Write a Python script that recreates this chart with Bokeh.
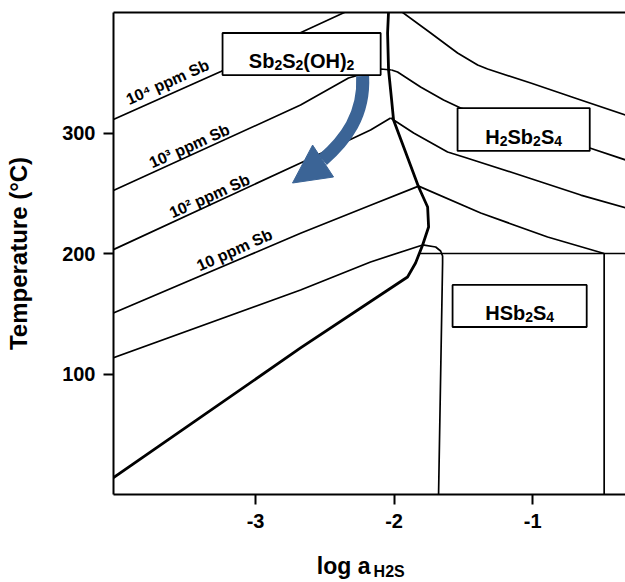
from bokeh.plotting import figure
from bokeh.layouts import column
from bokeh.models import Range1d, FixedTicker, LinearAxis
from bokeh.embed import file_html
from bokeh.resources import INLINE
from bokeh.core.properties import value

FONT = "Liberation Sans"

# ---- axes ----
x_ticks = [-3, -2, -1]
x_tick_labels = {-3: "-3", -2: "-2", -1: "-1"}
y_ticks = [100, 200, 300]

# ---- thick phase boundary (log aH2S, T) ----
boundary_x = [-4.03, -2.675, -1.903, -1.845, -1.794, -1.751, -1.758, -1.823, -1.931, -2.004, -2.018, -2.040, -2.047, -2.040]
boundary_y = [13.7, 121.6, 180.5, 192.1, 207.1, 222.0, 238.6, 255.2, 288.4, 310.8, 327.4, 352.3, 383.0, 401.0]

# ---- solubility contours ----
c4_left_x = [-4.03, -3.25, -2.68, -2.34]
c4_left_y = [311.0, 351.0, 383.0, 401.0]
c4_right_x = [-1.95, -1.736, -1.542, -1.397, -1.325, -1.014, -0.653, -0.30]
c4_right_y = [401.0, 383.0, 366.4, 356.4, 353.1, 341.5, 327.4, 313.8]

c3_left_x = [-4.03, -2.675, -2.329, -2.097, -2.018]
c3_left_y = [252.0, 323.2, 345.6, 353.1, 352.3]
c3_right_x = [-2.018, -1.975, -1.809, -1.643, -1.520, -0.588, -0.30]
c3_right_y = [352.3, 350.6, 338.2, 327.4, 320.7, 287.6, 276.5]

c2_left_x = [-4.03, -2.675, -2.170, -2.025]
c2_left_y = [203.0, 275.1, 302.5, 312.4]
c2_right_x = [-2.025, -1.859, -1.614, -1.498, -1.137, -0.653, -0.30]
c2_right_y = [312.4, 300.0, 284.2, 280.1, 266.8, 248.5, 237.0]

c1_left_x = [-4.03, -2.675, -2.170, -1.823]
c1_left_y = [150.4, 216.8, 240.0, 255.9]
c1_right_x = [-1.823, -1.375, -0.892, -0.484]
c1_right_y = [255.9, 233.6, 213.7, 200.0]

c0_x = [-4.03, -2.675, -2.170, -1.794, -1.700, -1.664, -1.650, -1.650, -1.679]
c0_y = [113.3, 169.7, 193.0, 207.1, 205.4, 202.1, 197.9, 192.1, 0.0]

h_x = [-1.82, -0.30]
h_y = [200.0, 200.0]
v_x = [-0.484, -0.484]
v_y = [200.0, 0.0]

# ---- contour labels ----
clab_text = ["10\u2074 ppm Sb", "10\u00b3 ppm Sb", "10\u00b2 ppm Sb", "10 ppm Sb"]
clab_x = [-3.635, -3.477, -3.332, -3.152]
clab_y = [342.3, 289.2, 247.7, 202.9]

# ---- field boxes ----
box_left = [-3.238, -1.542, -1.578]
box_right = [-2.097, -0.588, -0.610]
box_top = [383.0, 320.7, 173.9]
box_bottom = [348.1, 285.1, 139.0]
# formula pieces: (text, is_subscript)
box_formulas = [
    [("Sb", 0), ("2", 1), ("S", 0), ("2", 1), ("(OH)", 0), ("2", 1)],
    [("H", 0), ("2", 1), ("Sb", 0), ("2", 1), ("S", 0), ("4", 1)],
    [("HSb", 0), ("2", 1), ("S", 0), ("4", 1)],
]

# ---- arrow ----
arrow_body = dict(x0=-2.227, y0=347.3, cx0=-2.213, cy0=314.9, cx1=-2.350, cy1=294.2, x1=-2.516, y1=277.6)
arrow_head_x = [-2.733, -2.588, -2.437]
arrow_head_y = [258.5, 290.0, 263.5]

# ---- x-axis title pieces ----
xtitle_text = ["log a", "H2S"]
xtitle_x = [-2.170, -2.148]
xtitle_y = [17, 11]

MAIN_PX = 20
SUB_PX = 14
# Arial/Liberation Sans Bold advance widths (per em)
ADV = {"S": 0.667, "b": 0.611, "(": 0.333, ")": 0.333, "O": 0.778, "H": 0.722,
       "2": 0.556, "4": 0.556}

def piece_width(txt, sub):
    size = SUB_PX if sub else MAIN_PX
    return sum(ADV[c] for c in txt) * size

p = figure(width=625, height=540,
           x_range=Range1d(-4.025, -0.33), y_range=Range1d(0, 400),
           output_backend="svg", toolbar_location=None,
           min_border_left=113, min_border_right=0,
           min_border_top=12, min_border_bottom=46)
p.outline_line_color = None
p.grid.visible = False
p.background_fill_color = "white"
p.border_fill_color = "white"

for ax in (p.xaxis[0], p.yaxis[0]):
    ax.axis_line_width = 2
    ax.axis_line_color = "black"
    ax.major_tick_line_width = 2
    ax.major_tick_line_color = "black"
    ax.major_tick_out = 10
    ax.major_tick_in = 0
    ax.minor_tick_out = 0
    ax.minor_tick_in = 0
    ax.major_label_text_font = FONT
    ax.major_label_text_font_style = "bold"
    ax.major_label_text_font_size = "20px"
    ax.major_label_text_color = "black"
p.xaxis.ticker = FixedTicker(ticks=x_ticks)
p.yaxis.ticker = FixedTicker(ticks=y_ticks)
p.xaxis.major_label_overrides = x_tick_labels
p.xaxis.major_label_standoff = 9
p.yaxis.major_label_standoff = 8
p.yaxis.axis_label = "Temperature (\u00b0C)"
p.yaxis.axis_label_text_font = FONT
p.yaxis.axis_label_text_font_style = "bold"
p.yaxis.axis_label_text_font_size = "24px"
p.yaxis.axis_label_text_color = "black"
p.yaxis.axis_label_standoff = 27

top = LinearAxis(ticker=FixedTicker(ticks=[]), axis_line_width=2, axis_line_color="black",
                 major_tick_out=0, major_tick_in=0, minor_tick_out=0, minor_tick_in=0,
                 major_label_text_font_size="0px", major_label_standoff=0)
p.add_layout(top, "above")

# contours
p.multi_line(xs=[c4_left_x, c4_right_x, c3_left_x, c3_right_x, c2_left_x, c2_right_x,
                 c1_left_x, c1_right_x, c0_x, h_x, v_x],
             ys=[c4_left_y, c4_right_y, c3_left_y, c3_right_y, c2_left_y, c2_right_y,
                 c1_left_y, c1_right_y, c0_y, h_y, v_y],
             line_color="black", line_width=1.7, line_join="round")
p.line(boundary_x, boundary_y, line_color="black", line_width=2.8, line_join="round")

# arrow
p.bezier(line_color="#3b6496", line_width=13, line_cap="butt", **arrow_body)
p.patch(arrow_head_x, arrow_head_y, fill_color="#3b6496", line_color="#3b6496", line_width=1)

# boxes
p.quad(left=box_left, right=box_right, top=box_top, bottom=box_bottom,
       fill_color="white", line_color="black", line_width=1.8)

# box labels with real subscripts (pieces laid out by pixel offsets)
main = dict(x=[], y=[], text=[], xo=[], yo=[])
subs = dict(x=[], y=[], text=[], xo=[], yo=[])
for l, r, t, b, pieces in zip(box_left, box_right, box_top, box_bottom, box_formulas):
    cx, cy = (l + r) / 2, (t + b) / 2
    total = sum(piece_width(txt, s) for txt, s in pieces)
    off = -total / 2
    for txt, s in pieces:
        d = subs if s else main
        d["x"].append(cx); d["y"].append(cy); d["text"].append(txt)
        d["xo"].append(off); d["yo"].append(11 if s else 7)
        off += piece_width(txt, s)
p.text(x=main["x"], y=main["y"], text=main["text"], x_offset=main["xo"], y_offset=main["yo"],
       text_font=value(FONT), text_font_style="bold", text_font_size=f"{MAIN_PX}px",
       text_align="left", text_baseline="alphabetic", text_color="black")
p.text(x=subs["x"], y=subs["y"], text=subs["text"], x_offset=subs["xo"], y_offset=subs["yo"],
       text_font=value(FONT), text_font_style="bold", text_font_size=f"{SUB_PX}px",
       text_align="left", text_baseline="alphabetic", text_color="black")

# contour labels
p.text(x=clab_x, y=clab_y, text=clab_text, angle=0.42,
       text_font=value(FONT), text_font_style="bold", text_font_size="16px",
       text_align="center", text_baseline="alphabetic", text_color="black")

# x-axis title strip sharing the x scale
q = figure(width=625, height=42, x_range=p.x_range, y_range=Range1d(0, 42),
           title=None, output_backend="svg", toolbar_location=None,
           x_axis_type=None, y_axis_type=None,
           min_border_left=113, min_border_right=0, min_border_top=0, min_border_bottom=0)
q.outline_line_color = None
q.grid.visible = False
q.background_fill_color = "white"
q.border_fill_color = "white"
q.text(x=xtitle_x[:1], y=xtitle_y[:1], text=xtitle_text[:1], text_font=value(FONT),
       text_font_style="bold", text_font_size="23px", text_align="right",
       text_baseline="alphabetic", text_color="black")
q.text(x=xtitle_x[1:], y=xtitle_y[1:], text=xtitle_text[1:], text_font=value(FONT),
       text_font_style="bold", text_font_size="16px", text_align="left",
       text_baseline="alphabetic", text_color="black")

layout = column(p, q, spacing=0)
open("out.html", "w").write(file_html(layout, INLINE))
